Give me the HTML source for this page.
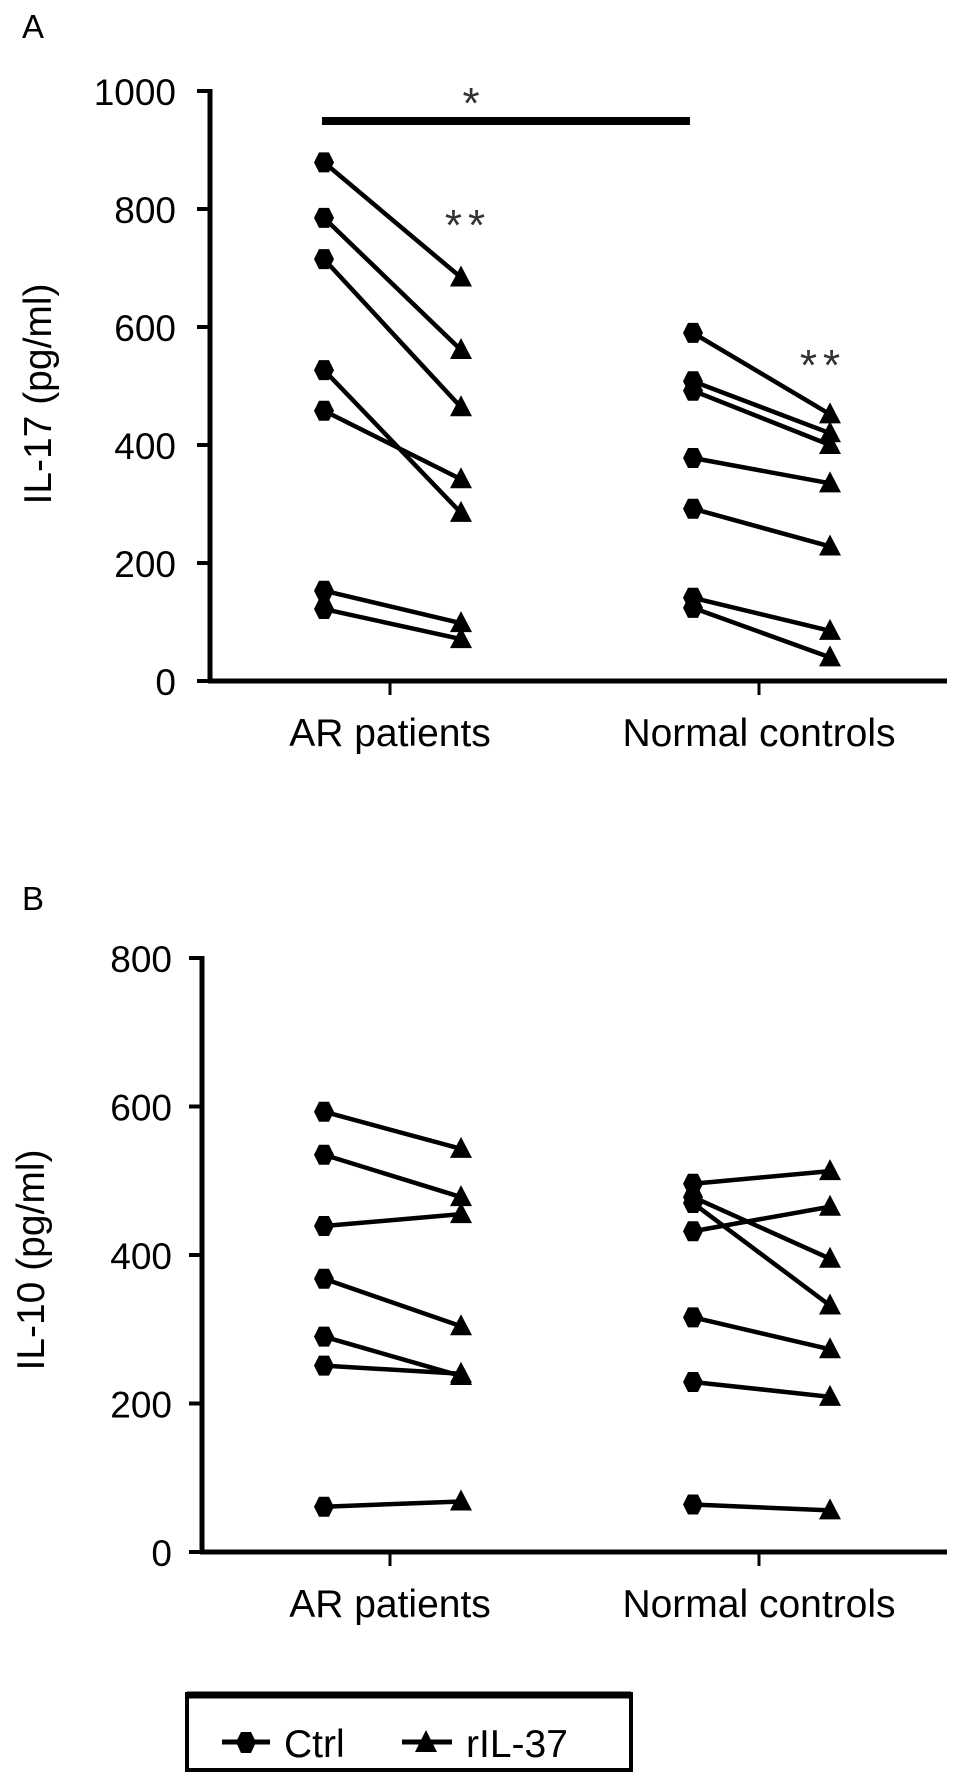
<!DOCTYPE html>
<html><head><meta charset="utf-8"><style>
html,body{margin:0;padding:0;background:#fff;}
svg{display:block;font-family:"Liberation Sans",Arial,sans-serif;}
</style></head><body>
<svg id="chart" width="969" height="1788" viewBox="0 0 969 1788">
<text x="22" y="38" font-size="33">A</text>
<text x="22" y="910" font-size="33">B</text>
<g id="pa"></g>
<g id="pb"></g>
<g>
  <rect x="187" y="1694" width="444" height="76" fill="none" stroke="#000" stroke-width="4"/>
  <line x1="187" y1="1695" x2="631" y2="1695" stroke="#000" stroke-width="7"/>
  <g>
    <line x1="222" y1="1742" x2="270" y2="1742" stroke="#000" stroke-width="5"/>
    <polygon points="241,1732 251,1732 256,1742 251,1753 241,1753 236,1742" fill="#000"/>
    <text x="284" y="1757" font-size="39">Ctrl</text>
  </g>
  <g>
    <line x1="402" y1="1742" x2="452" y2="1742" stroke="#000" stroke-width="5"/>
    <polygon points="426,1730 437,1752 415,1752" fill="#000"/>
    <text x="466" y="1757" font-size="39">rIL-37</text>
  </g>
</g>
</svg>
<script>
// Panel A data (IL-17)
const categories = ["AR patients", "Normal controls"];
const aTicks = [0, 200, 400, 600, 800, 1000];
const aArCtrl = [879, 785, 715, 527, 458, 153, 122];
const aArRil = [684, 561, 464, 285, 342, 98, 71];
const aNcCtrl = [590, 508, 492, 378, 292, 141, 124];
const aNcRil = [452, 420, 400, 335, 228, 85, 40];
// Panel B data (IL-10)
const bTicks = [0, 200, 400, 600, 800];
const bArCtrl = [593, 535, 439, 368, 290, 251, 61];
const bArRil = [543, 478, 455, 304, 237, 240, 68];
const bNcCtrl = [496, 478, 470, 432, 316, 229, 64];
const bNcRil = [513, 395, 332, 465, 273, 209, 56];

const NS = "http://www.w3.org/2000/svg";
function mk(parent, tag, attrs, text) {
  const el = document.createElementNS(NS, tag);
  for (const k in attrs) el.setAttribute(k, attrs[k]);
  if (text !== undefined) el.textContent = text;
  parent.appendChild(el);
  return el;
}
const catX = [390, 759];
const ctrlOff = -66, rilOff = 71;

function drawPanel(g, cfg) {
  const y = v => cfg.y0 - (v / cfg.max) * (cfg.y0 - cfg.yTop);
  const ax = mk(g, "line", {x1: cfg.axX, y1: cfg.yTop - 2, x2: cfg.axX, y2: cfg.y0 + 2, stroke: "#000", "stroke-width": 5});
  
  
  const xa = mk(g, "line", {x1: cfg.axX - 2, y1: cfg.y0, x2: 947, y2: cfg.y0, stroke: "#000", "stroke-width": 5});
  
  
  cfg.ticks.forEach(t => {
    mk(g, "line", {x1: cfg.axX - 13, y1: y(t), x2: cfg.axX, y2: y(t), stroke: "#000", "stroke-width": 4});
    const tl = mk(g, "text", {x: cfg.labX, y: y(t) + 14, "font-size": 37, "text-anchor": "end"}, String(t));
    
    
  });
  categories.forEach((c, i) => {
    mk(g, "line", {x1: catX[i], y1: cfg.y0, x2: catX[i], y2: cfg.y0 + 14, stroke: "#000", "stroke-width": 3});
    const cl = mk(g, "text", {x: catX[i], y: cfg.y0 + 65, "font-size": 39, "text-anchor": "middle"}, c);
    
    
  });
  const tt = mk(g, "text", {transform: `translate(${cfg.titleX},${cfg.titleY}) rotate(-90)`, "font-size": 39, "text-anchor": "middle"}, cfg.title);
  
  
  [[cfg.arC, cfg.arR, 0], [cfg.ncC, cfg.ncR, 1]].forEach(([cs, rs, gi]) => {
    cs.forEach((v, k) => {
      const x1 = catX[gi] + ctrlOff, x2 = catX[gi] + rilOff;
      const y1 = y(v), y2 = y(rs[k]);
      const ln = mk(g, "line", {x1: x1, y1: y1, x2: x2, y2: y2, stroke: "#000", "stroke-width": 4.5});
      
      
      const c = mk(g, "polygon", {points: `${x1-5},${y1-10} ${x1+5},${y1-10} ${x1+10},${y1} ${x1+5},${y1+10} ${x1-5},${y1+10} ${x1-10},${y1}`, fill: "#000"});
      
      
      const t = mk(g, "polygon", {points: `${x2},${y2-12} ${x2+11},${y2+9} ${x2-11},${y2+9}`, fill: "#000"});
      
      
    });
  });
}
drawPanel(document.getElementById("pa"), {y0: 681, yTop: 91, max: 1000, axX: 210, labX: 176, ticks: aTicks,
  title: "IL-17 (pg/ml)", titleX: 51, titleY: 394, arC: aArCtrl, arR: aArRil, ncC: aNcCtrl, ncR: aNcRil});
drawPanel(document.getElementById("pb"), {y0: 1552, yTop: 958, max: 800, axX: 202, labX: 172, ticks: bTicks,
  title: "IL-10 (pg/ml)", titleX: 44, titleY: 1260, arC: bArCtrl, arR: bArRil, ncC: bNcCtrl, ncR: bNcRil});

const pa = document.getElementById("pa");
const bar = mk(pa, "line", {x1: 322, y1: 121, x2: 690, y2: 121, stroke: "#000", "stroke-width": 8});


const s1 = mk(pa, "text", {x: 471, y: 118, "font-size": 44, "text-anchor": "middle", fill: "#333"}, "*");


const s2 = mk(pa, "text", {x: 468, y: 240, "font-size": 44, "text-anchor": "middle", "letter-spacing": "6", fill: "#333"}, "**");


const s3 = mk(pa, "text", {x: 823, y: 380, "font-size": 44, "text-anchor": "middle", "letter-spacing": "6", fill: "#333"}, "**");


</script>
</body></html>
